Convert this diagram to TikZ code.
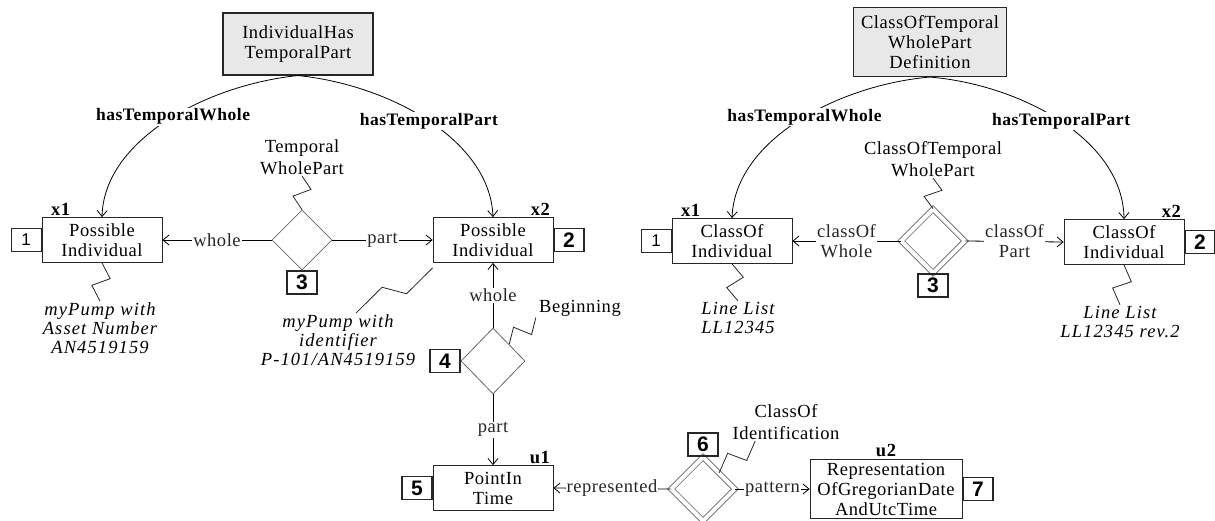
\documentclass[tikz,border=0pt]{standalone}
\usepackage{fontspec}
\setmainfont{Liberation Serif}[LetterSpace=3]
\newfontfamily\numfont{Liberation Sans}
\usetikzlibrary{shapes.geometric,positioning,calc,arrows.meta}

\tikzset{
  thing/.style={draw=black!85,line width=0.8pt,rectangle,align=center,minimum width=120pt,minimum height=45pt,inner sep=1pt,font=\fontsize{18.5}{20}\selectfont},
  relbox/.style={thing,fill=black!9,line width=1.1pt,minimum width=150pt},
  rel/.style={diamond,draw=black!60,line width=0.8pt,minimum width=60pt,minimum height=60pt,inner sep=0pt},
  crel/.style={rel,double,double distance=4pt,minimum width=64pt,minimum height=64pt},
  numbox/.style={draw=black!85,line width=0.8pt,font=\numfont\fontsize{17}{17}\selectfont,minimum width=30pt,minimum height=23pt,inner sep=0pt},
  bnum/.style={numbox,font=\numfont\bfseries\fontsize{21}{21}\selectfont,line width=1.3pt},
  role/.style={fill=white,inner sep=1pt,text=black!85,align=center,font=\fontsize{18.5}{20}\selectfont},
  prop/.style={fill=white,inner sep=1pt,font=\bfseries\fontsize{17.5}{19}\selectfont},
  var/.style={font=\bfseries\fontsize{18.5}{18}\selectfont,inner sep=1pt},
  note/.style={align=center,inner sep=1pt,font=\itshape\fontsize{18.5}{19}\selectfont\addfontfeature{LetterSpace=6}},
  cls/.style={align=center,inner sep=1pt,font=\fontsize{18.5}{22}\selectfont},
  zig/.style={draw=black!85,to path={-- ($(\tikztostart)!.4!(\tikztotarget)!9pt!90:(\tikztotarget)$) -- ($(\tikztostart)!.6!(\tikztotarget)!9pt!-90:(\tikztotarget)$) -- (\tikztotarget)}},
}

\begin{document}
\begin{tikzpicture}[x=1pt,y=-1pt,>={Straight Barb[length=6pt,width=10pt]},line width=0.8pt]
  \useasboundingbox (0,0) rectangle (1215,521);

  % individuals
  \node[relbox,minimum height=62pt] (ihtp) at (298,44) {IndividualHas\\TemporalPart};
  \node[thing] (px1) at (102,240) {Possible\\Individual};
  \node[thing] (px2) at (493,240) {Possible\\Individual};
  \node[rel] (twp) at (302,240) {};
  \node[numbox,left=0pt of px1] (n1) {1};
  \node[bnum,right=0pt of px2] (n2) {2};
  \node[bnum,below=0pt of twp] (n3) {3};
  \node[var,above right=0pt and 8pt of px1.north west] (vx1) {x1};
  \node[var,above left=0pt and 2pt of px2.north east] (vx2) {x2};
  \node[cls] (twpl) at (302,157) {Temporal\\WholePart};
  \node[note] (pump1) at (100,328) {myPump with\\Asset Number\\AN4519159};
  \node[note] (pump2) at (338,340) {myPump with\\identifier\\P-101/AN4519159};

  \draw[->] (ihtp.south) .. controls (206,85) and (104,140) .. node[prop,pos=0.47] {hasTemporalWhole} (px1.north);
  \draw[->] (ihtp.south) .. controls (390,85) and (490,140) .. node[prop,pos=0.5] {hasTemporalPart} (px2.north);
  \draw[->] (twp.west) -- node[role] {whole} (px1.east);
  \draw[->] (twp.east) -- node[role] {part} (px2.west);
  \draw[zig] (twpl.south) to (twp.north);
  \draw[zig] (px1.south) to (pump1.north);
  \draw[zig] ([yshift=-5pt]px2.south west) to ([xshift=18pt]pump2.north);

  % beginning and point in time
  \node[rel,minimum width=64pt,minimum height=66pt] (beg) at (493,361) {};
  \node[bnum,left=0pt of beg] (n4) {4};
  \node[cls] (begl) at (580,308) {Beginning};
  \node[thing] (pit) at (493,488) {PointIn\\Time};
  \node[bnum,left=0pt of pit] (n5) {5};
  \node[var,above left=0pt and 2pt of pit.north east] (vu1) {u1};

  \draw[->] (beg.north) -- node[role] {whole} (px2.south);
  \draw[->] (beg.south) -- node[role] {part} (pit.north);
  \draw[zig] (beg.north east) to ([xshift=-2pt]begl.south west);

  % identification
  \node[crel] (coi) at (703,489) {};
  \node[bnum,above=0pt of coi] (n6) {6};
  \node[cls] (coil) at (786,422) {ClassOf\\Identification};
  \node[thing,minimum width=152pt,minimum height=59pt] (rep) at (886,489) {Representation\\OfGregorianDate\\AndUtcTime};
  \node[bnum,right=0pt of rep] (n7) {7};
  \node[var,above=1pt of rep] (vu2) {u2};

  \draw[->] (coi.west) -- node[role] {represented} (pit.east);
  \draw[->] (coi.east) -- node[role] {pattern} (rep.west);
  \draw[zig] (coi.north east) to ([xshift=24pt]coil.south west);

  % classes
  \node[relbox,minimum width=153pt,minimum height=69pt] (ctwpd) at (930,42) {ClassOfTemporal\\WholePart\\Definition};
  \node[thing] (cx1) at (732,241) {ClassOf\\Individual};
  \node[thing] (cx2) at (1124,242) {ClassOf\\Individual};
  \node[crel] (ctwp) at (933,241) {};
  \node[numbox,left=0pt of cx1] (m1) {1};
  \node[bnum,right=0pt of cx2] (m2) {2};
  \node[bnum,below=0pt of ctwp] (m3) {3};
  \node[var,above right=0pt and 8pt of cx1.north west] (vc1) {x1};
  \node[var,above left=0pt and 2pt of cx2.north east] (vc2) {x2};
  \node[cls] (ctwpl) at (933,159) {ClassOfTemporal\\WholePart};
  \node[note] (ll1) at (738,318) {Line List\\LL12345};
  \node[note] (ll2) at (1120,322) {Line List\\LL12345 rev.2};

  \draw[->] (ctwpd.south) .. controls (838,85) and (735,140) .. node[prop,pos=0.47] {hasTemporalWhole} (cx1.north);
  \draw[->] (ctwpd.south) .. controls (1022,85) and (1123,140) .. node[prop,pos=0.5] {hasTemporalPart} (cx2.north);
  \draw[->] (ctwp.west) -- node[role] {classOf\\Whole} (cx1.east);
  \draw[->] (ctwp.east) -- node[role] {classOf\\Part} (cx2.west);
  \draw[zig] (ctwpl.south) to (ctwp.north);
  \draw[zig] (cx1.south) to (ll1.north);
  \draw[zig] (cx2.south) to (ll2.north);
\end{tikzpicture}
\end{document}
